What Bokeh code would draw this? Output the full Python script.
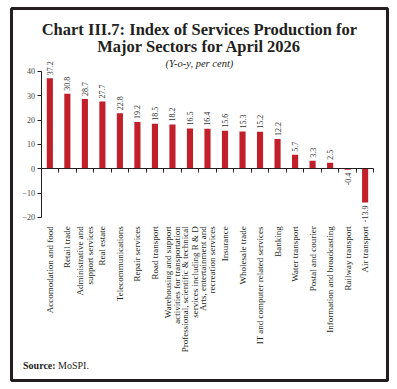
import math
from bokeh.plotting import figure
from bokeh.models import (Range1d, FixedTicker, LinearAxis, Label,
                          ColumnDataSource)
from bokeh.embed import file_html
from bokeh.resources import INLINE

categories = [
    "Accomodation and food", "Retail trade",
    "Administrative and\nsupport services", "Real estate",
    "Telecommunications", "Repair services", "Road transport",
    "Warehousing and support\nactivities for transportation",
    "Professional, scientific & technical\nservices including R & D",
    "Arts, entertainment and\nrecreation services", "Insurance",
    "Wholesale trade", "IT and computer related services", "Banking",
    "Water transport", "Postal and courier", "Information and broadcasting",
    "Railway transport", "Air transport",
]
values = [37.2, 30.8, 28.7, 27.7, 22.8, 19.2, 18.5, 18.2, 16.5, 16.4, 15.6,
          15.3, 15.2, 12.2, 5.7, 3.3, 2.5, -0.4, -13.9]
y_ticks = [-20, -10, 0, 10, 20, 30, 40]

title_line1 = "Chart III.7: Index of Services Production for"
title_line2 = "Major Sectors for April 2026"
subtitle_text = "(Y-o-y, per cent)"

BAR = "#C1202B"
INK = "#231F20"
SERIF = "Liberation Serif"
LINE_GAP = 0.27  # half spacing (data units) between lines of two-line labels

n = len(categories)
xs = [i + 0.5 for i in range(n)]
y_lo, y_hi = min(y_ticks), max(y_ticks)

# each label line becomes its own tick so that every line ends at the top
label_ticks, label_text = [], {}
for x, c in zip(xs, categories):
    lines = c.split("\n")
    if len(lines) == 1:
        label_ticks.append(x)
        label_text[x] = c
    else:
        for k, line in enumerate(lines):
            t = round(x + (k - (len(lines) - 1) / 2) * 2 * LINE_GAP, 3)
            label_ticks.append(t)
            label_text[t] = line

# the plot frame is the boxed panel; everything is drawn inside it
p = figure(width=397, height=389,
           x_range=Range1d(-1.689, 19.777), y_range=Range1d(-87.1, 65.9),
           output_backend="svg", toolbar_location=None,
           min_border_left=11, min_border_right=10, min_border_top=8,
           min_border_bottom=9)
p.title.visible = False
p.outline_line_color = INK
p.outline_line_width = 3
p.grid.visible = False
p.background_fill_color = "white"
p.border_fill_color = "white"

# y axis
ya = p.yaxis[0]
ya.fixed_location = 0
ya.ticker = FixedTicker(ticks=y_ticks)
ya.bounds = (y_lo, y_hi)
ya.major_tick_out = 4
ya.major_tick_in = 0
ya.minor_tick_line_color = None
ya.axis_line_color = INK
ya.major_tick_line_color = INK
ya.major_label_text_font = SERIF
ya.major_label_text_font_size = "8px"
ya.major_label_text_color = "#444444"
ya.major_label_standoff = 2

# category label axis, just under the lowest y tick
xa = p.xaxis[0]
xa.fixed_location = y_lo
xa.ticker = FixedTicker(ticks=label_ticks)
xa.major_label_overrides = label_text
xa.major_label_orientation = math.pi / 2
xa.axis_line_color = None
xa.major_tick_line_color = None
xa.minor_tick_line_color = None
xa.major_tick_out = 0
xa.major_tick_in = 0
xa.major_label_standoff = 9
xa.major_label_text_font = SERIF
xa.major_label_text_font_size = "9px"
xa.major_label_text_color = INK

# zero line axis with separator ticks
za = LinearAxis(fixed_location=0, ticker=FixedTicker(ticks=list(range(n + 1))))
za.bounds = (0, n)
za.axis_line_color = INK
za.major_tick_line_color = INK
za.major_tick_out = 4
za.major_tick_in = 0
za.minor_tick_line_color = None
za.major_label_text_font_size = "0px"
za.major_label_text_alpha = 0
p.add_layout(za, "below")

# bars
p.vbar(x=xs, top=values, bottom=0, width=0.35, fill_color=BAR, line_color=None)

# value labels
pos = ColumnDataSource(dict(x=[x for x, v in zip(xs, values) if v >= 0],
                            y=[v for v in values if v >= 0],
                            t=[f"{v:.1f}" for v in values if v >= 0]))
neg = ColumnDataSource(dict(x=[x for x, v in zip(xs, values) if v < 0],
                            y=[v for v in values if v < 0],
                            t=[f"{v:.1f}" for v in values if v < 0]))
p.text(x="x", y="y", text="t", source=pos, angle=math.pi / 2,
       text_align="left", text_baseline="middle", y_offset=-3,
       text_font_size="8px", text_color="#333333", text_font={"value": SERIF})
p.text(x="x", y="y", text="t", source=neg, angle=math.pi / 2,
       text_align="right", text_baseline="middle", y_offset=3,
       text_font_size="8px", text_color="#333333", text_font={"value": SERIF})

# titles
cx = 9.04
p.add_layout(Label(x=cx, y=57.3, text=title_line1, text_align="center",
                   text_baseline="alphabetic", text_font=SERIF, text_font_size="16.5px",
                   text_font_style="bold", text_color=INK))
p.add_layout(Label(x=cx, y=50.3, text=title_line2, text_align="center",
                   text_baseline="alphabetic", text_font=SERIF, text_font_size="16.5px",
                   text_font_style="bold", text_color=INK))
p.add_layout(Label(x=cx, y=43.3, text=subtitle_text, text_align="center",
                   text_baseline="middle", text_font=SERIF, text_font_size="10.5px",
                   text_font_style="italic", text_color=INK))

# source
p.add_layout(Label(x=-1.03, y=-81.1, text="Source:", text_align="left",
                   text_baseline="middle", text_font=SERIF, text_font_size="10px",
                   text_font_style="bold", text_color=INK))
p.add_layout(Label(x=-1.03, y=-81.1, x_offset=35, text="MoSPI.", text_align="left",
                   text_baseline="middle", text_font=SERIF, text_font_size="10px",
                   text_color=INK))

open("out.html", "w").write(file_html(p, INLINE))
